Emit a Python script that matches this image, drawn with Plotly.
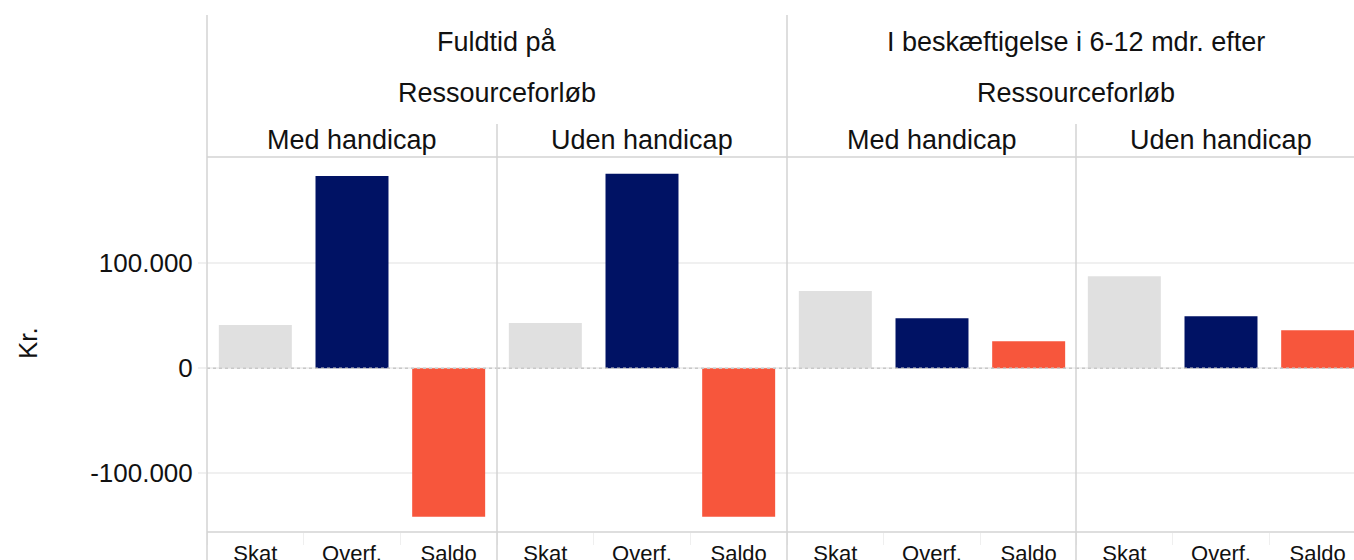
import plotly.graph_objects as go

# ---- data ----
categories = ["Skat", "Overf.", "Saldo"]
panel_top = ["Fuldtid på<br>Ressourceforløb", "I beskæftigelse i 6-12 mdr. efter<br>Ressourceforløb"]
panel_sub = ["Med handicap", "Uden handicap", "Med handicap", "Uden handicap"]
fuld_med = [41000, 183000, -141500]
fuld_uden = [43000, 185000, -141500]
besk_med = [73500, 47500, 25500]
besk_uden = [87500, 49500, 36000]
series = [fuld_med, fuld_uden, besk_med, besk_uden]
colors = ["#E0E0E0", "#001264", "#F7563C"]
y_ticks = [-100000, 0, 100000]
y_ticktext = ["-100.000", "0", "100.000"]

SW, SH = 1354, 560
W, H = SW, SH
PLOT_L, PLOT_T, PLOT_B = 207, 157, 532
L, R, T, B = PLOT_L, 0, PLOT_T, SH - PLOT_B
PW = W - L - R
PH = H - T - B
bounds_px = [207, 497, 787, 1076, 1366]
slot = 290 / 3.0

def px_x(px):
    return (px - PLOT_L) / PW

def px_y(py):
    return (PLOT_B - py) / PH

FONT = "Liberation Sans, Arial, Helvetica, sans-serif"

fig = go.Figure()
for i, vals in enumerate(series):
    sfx = "" if i == 0 else str(i + 1)
    fig.add_trace(go.Bar(
        x=categories, y=vals, marker=dict(color=colors, line=dict(width=0)),
        xaxis="x" + sfx, yaxis="y" + sfx, showlegend=False, hoverinfo="x+y",
    ))
    right = min(bounds_px[i + 1], SW)
    width_px = right - bounds_px[i]
    xr = [-0.5, -0.5 + width_px / slot]
    fig.layout["xaxis" + sfx] = dict(
        domain=[px_x(bounds_px[i]), px_x(right)],
        anchor="y" + sfx, range=xr, type="category", automargin=False,
        showgrid=False, zeroline=False, showline=False,
        ticks="outside", tickson="boundaries", ticklen=12, tickcolor="#EFEFEF", tickwidth=1,
        ticklabelstandoff=6,
        tickfont=dict(family=FONT, size=22, color="#111"),
        fixedrange=True,
    )
    fig.layout["yaxis" + sfx] = dict(
        domain=[0, 1], anchor="x" + sfx, automargin=False,
        range=[-156000, 201000], tickvals=y_ticks, ticktext=y_ticktext,
        showgrid=True, gridcolor="#F0F0F0", gridwidth=2,
        zeroline=False, showline=False,
        showticklabels=(i == 0),
        ticks="outside" if i == 0 else "", ticklen=8, tickcolor="#F0F0F0", tickwidth=2,
        tickfont=dict(family=FONT, size=26, color="#111"),
        fixedrange=True,
    )
    if i > 0:
        fig.layout["yaxis" + sfx]["matches"] = "y"
    fig.add_shape(type="line", xref="x" + sfx + " domain", yref="y" + sfx,
                  x0=0, x1=1, y0=0, y1=0,
                  line=dict(color="#C8C8C8", width=1.5, dash="dot"))

line_col = "#D3D3D3"
for px, top in [(207, 15), (787, 15), (497, 124), (1076, 124)]:
    fig.add_shape(type="line", xref="paper", yref="paper",
                  x0=px_x(px), x1=px_x(px), y0=px_y(top), y1=px_y(SH + 5),
                  line=dict(color=line_col, width=1.5))
for py in [157, 532]:
    fig.add_shape(type="line", xref="paper", yref="paper",
                  x0=px_x(207), x1=px_x(SW + 5), y0=px_y(py), y1=px_y(py),
                  line=dict(color=line_col, width=1.5))

ann = []
top_lines = [t.split("<br>") for t in panel_top]
for j, cx in enumerate([497, 1076]):
    for k, cy in enumerate([42, 93]):
        ann.append(dict(text=top_lines[j][k], xref="paper", yref="paper",
                        x=px_x(cx), y=px_y(cy), xanchor="center", yanchor="middle",
                        showarrow=False, font=dict(family=FONT, size=27, color="#111")))
for i, name in enumerate(panel_sub):
    cx = bounds_px[i] + 145
    ann.append(dict(text=name, xref="paper", yref="paper",
                    x=px_x(cx), y=px_y(140), xanchor="center", yanchor="middle",
                    showarrow=False, font=dict(family=FONT, size=27, color="#111")))
ann.append(dict(text="Kr.", xref="paper", yref="paper", x=px_x(28), y=px_y(343),
                xanchor="center", yanchor="middle", textangle=-90, showarrow=False,
                font=dict(family=FONT, size=26, color="#111")))

fig.update_layout(
    width=W, height=H,
    margin=dict(l=L, r=R, t=T, b=B, pad=0, autoexpand=False),
    paper_bgcolor="white", plot_bgcolor="white",
    bargap=0.245, annotations=ann,
    font=dict(family=FONT, color="#111"),
)

fig.write_html(
    "out.html",
    config={"displayModeBar": False},
    post_script="document.body.style.margin='0';document.body.style.overflow='hidden';",
)
